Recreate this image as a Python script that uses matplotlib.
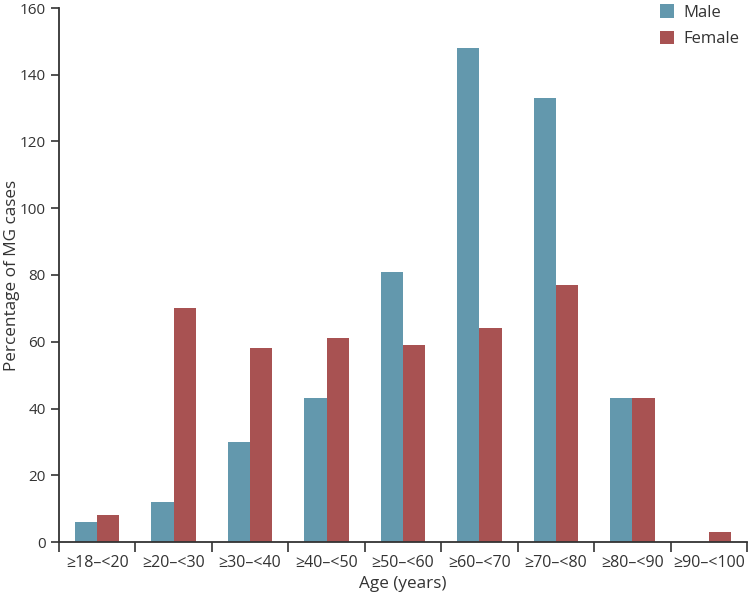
import matplotlib
matplotlib.use('Agg')
import matplotlib.pyplot as plt
import numpy as np

plt.rcParams['font.family'] = ['Open Sans', 'DejaVu Sans']

ages = ['≥18–<20', '≥20–<30', '≥30–<40', '≥40–<50', '≥50–<60',
        '≥60–<70', '≥70–<80', '≥80–<90', '≥90–<100']
male = [6, 12, 30, 43, 81, 148, 133, 43, 0]
female = [8, 70, 58, 61, 59, 64, 77, 43, 3]

c_male = '#6398ad'
c_female = '#a85252'
txt = '#333333'

fig = plt.figure(figsize=(7.5, 5.92), dpi=100)
ax = fig.add_axes([59/750, 1 - 542/592, (747 - 59)/750, (542 - 8)/592])

x = np.arange(len(ages))
w = 0.29
ax.bar(x - w/2, male, w, color=c_male, label='Male')
ax.bar(x + w/2, female, w, color=c_female, label='Female')

ax.set_xlim(-0.5, len(ages) - 0.5)
ax.set_ylim(0, 160)
ax.set_yticks(np.arange(0, 161, 20))
# ticks at the category boundaries, labels at the centres
ax.set_xticks(np.arange(-0.5, len(ages)))
ax.set_xticklabels([])
ax.set_xticks(x, minor=True)
ax.set_xticklabels(ages, minor=True)
ax.tick_params(axis='x', which='minor', length=0, pad=9, labelsize=11.5, colors=txt)
ax.tick_params(axis='x', which='major', length=7, width=1.2, color=txt)
ax.tick_params(axis='y', length=6, width=1.2, labelsize=11, color=txt, labelcolor=txt)

for s in ['top', 'right']:
    ax.spines[s].set_visible(False)
for s in ['left', 'bottom']:
    ax.spines[s].set_linewidth(1.3)
    ax.spines[s].set_color(txt)

ax.set_xlabel('Age (years)', fontsize=12.3, color=txt, labelpad=4)
ax.set_ylabel('Percentage of MG cases', fontsize=12.3, color=txt)
ax.yaxis.set_label_coords(-0.057, 0.5)

ax.legend(loc='upper right', bbox_to_anchor=(1.01, 1.035), frameon=False,
          fontsize=12, handlelength=0.85, handleheight=0.85, labelspacing=0.6,
          handletextpad=0.55, labelcolor=txt)

fig.savefig('out.png', dpi=100)
